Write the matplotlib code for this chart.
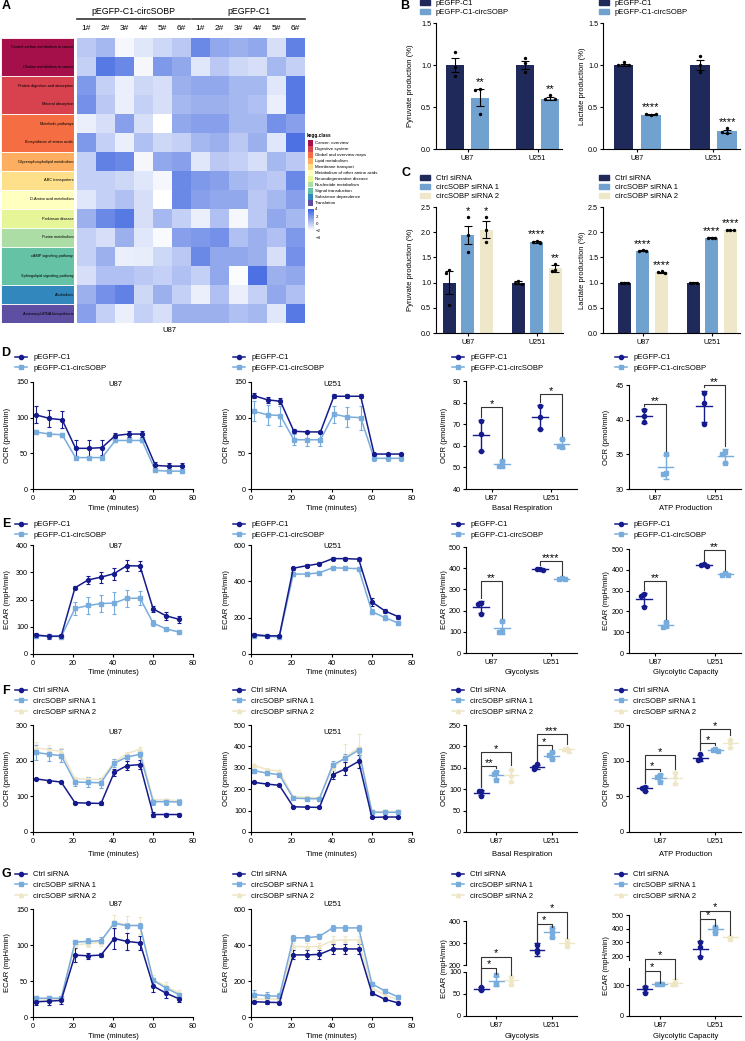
import numpy as np
import matplotlib
matplotlib.use('Agg')
import matplotlib.pyplot as plt
from matplotlib.colors import LinearSegmentedColormap, Normalize
from matplotlib.patches import Rectangle
from matplotlib.lines import Line2D

plt.rcParams['font.family'] = ['Liberation Sans', 'DejaVu Sans']
plt.rcParams['font.size'] = 5.5
plt.rcParams['axes.linewidth'] = 0.8
plt.rcParams['xtick.major.size'] = 2.5
plt.rcParams['ytick.major.size'] = 2.5
plt.rcParams['xtick.major.width'] = 0.8
plt.rcParams['ytick.major.width'] = 0.8
plt.rcParams['xtick.major.pad'] = 1.5
plt.rcParams['ytick.major.pad'] = 1.0
plt.rcParams['xtick.labelsize'] = 5.2
plt.rcParams['ytick.labelsize'] = 5.2

# ---------------- A: heatmap data ----------------
hm_groups = ['pEGFP-C1-circSOBP', 'pEGFP-C1']
hm_samples = ['1#', '2#', '3#', '4#', '5#', '6#'] * 2
pathways = ['Central carbon metabolism in cancer', 'Choline metabolism in cancer',
            'Protein digestion and absorption', 'Mineral absorption', 'Metabolic pathways',
            'Biosynthesis of amino acids', 'Glycerophospholipid metabolism', 'ABC transporters',
            'D-Amino acid metabolism', 'Parkinson disease', 'Purine metabolism',
            'cAMP signaling pathway', 'Sphingolipid signaling pathway', 'Alcoholism',
            'Aminoacyl-tRNA biosynthesis']
path_class = [0, 0, 1, 1, 2, 2, 3, 4, 5, 6, 7, 8, 8, 9, 10]
kegg_classes = ['Cancer: overview', 'Digestive system', 'Global and overview maps',
                'Lipid metabolism', 'Membrane transport', 'Metabolism of other amino acids',
                'Neurodegenerative disease', 'Nucleotide metabolism', 'Signal transduction',
                'Substance dependence', 'Translation']
kegg_colors = ['#a50f4a', '#d8424f', '#f46d43', '#fdae61', '#fee08b', '#ffffbf',
               '#e6f598', '#abdda4', '#66c2a5', '#3288bd', '#5e4fa2']
heat = [
    [0.1, 0.7, -1.7, -1.1, -0.5, 0.1, 2.5, 1.3, 1.0, 1.3, -0.8, 2.8],
    [-0.2, 3.1, 2.5, -1.7, 1.9, 1.3, -1.1, 0.1, -0.5, -0.8, 0.7, -0.2],
    [1.9, -0.2, -1.4, -0.5, -0.8, 1.0, 1.3, 1.3, 0.7, 0.7, -1.1, 3.1],
    [2.2, 0.1, -1.4, -0.2, -0.8, 0.7, 1.0, 1.0, 0.7, 0.4, -1.4, 3.1],
    [-1.4, -0.8, 1.6, -0.8, -2.0, 1.3, 1.6, 1.6, 0.7, 0.7, 2.2, 1.6],
    [1.9, -0.2, -1.4, 0.4, -0.5, -0.2, 0.7, 1.0, 0.1, 1.0, -1.1, 3.4],
    [-0.2, 2.8, 2.5, -1.7, 1.3, 1.6, -1.1, 0.1, -0.2, -0.8, 0.7, 0.1],
    [-0.2, -0.2, -0.5, -1.1, -1.7, 2.5, 1.9, 1.6, 0.7, 0.4, 0.1, 2.5],
    [-1.1, -0.2, 0.4, -0.8, -2.0, 2.5, 1.6, 1.3, 1.3, 0.1, 0.7, 1.6],
    [1.0, 2.5, 3.1, -0.8, 0.7, -0.2, -1.4, 0.4, -1.7, 0.1, 1.3, 0.7],
    [-0.2, -0.8, 1.0, -1.1, -1.8, 1.6, 1.9, 2.2, 0.4, 1.0, 0.4, 1.9],
    [-0.2, 1.0, -1.4, -1.3, -0.5, 0.1, 2.5, 1.3, 1.3, 1.0, -0.8, 2.2],
    [-0.8, 0.4, 0.4, 0.1, -0.2, 0.4, -0.2, 1.3, -1.9, 3.4, 1.0, 1.3],
    [1.0, 2.2, 2.8, -0.5, 1.0, -0.2, -1.4, 0.4, -1.4, -0.2, 1.3, 0.4],
    [1.6, -0.2, -1.4, -0.2, -0.8, 1.0, 1.0, 1.0, 0.4, 0.7, -1.1, 3.1],
]

# ---------------- B / C: bar data ----------------
cells = ['U87', 'U251']
oe_names = ['pEGFP-C1', 'pEGFP-C1-circSOBP']
kd_names = ['Ctrl siRNA', 'circSOBP siRNA 1', 'circSOBP siRNA 2']

pyr_b_mean = [[1.0, 1.0], [0.61, 0.60]]
pyr_b_err = [[0.08, 0.05], [0.10, 0.02]]
pyr_b_pts = [[[1.15, 0.98, 0.87], [1.08, 1.02, 0.92]], [[0.72, 0.70, 0.42], [0.64, 0.60, 0.60]]]
pyr_b_sig = [['', ''], ['**', '**']]
lac_b_mean = [[1.0, 1.0], [0.41, 0.21]]
lac_b_err = [[0.01, 0.06], [0.01, 0.02]]
lac_b_pts = [[[1.03, 1.0, 1.0], [1.11, 1.0, 0.92]], [[0.40, 0.42, 0.42], [0.25, 0.19, 0.20]]]
lac_b_sig = [['', ''], ['****', '****']]

pyr_c_mean = [[1.0, 1.0], [1.95, 1.80], [2.05, 1.28]]
pyr_c_err = [[0.23, 0.03], [0.18, 0.02], [0.17, 0.07]]
pyr_c_pts = [[[1.25, 1.20, 0.55], [1.03, 1.0, 0.98]], [[2.30, 1.95, 1.60], [1.83, 1.80, 1.79]],
             [[2.30, 2.05, 1.80], [1.36, 1.25, 1.24]]]
pyr_c_sig = [['', ''], ['*', '****'], ['*', '**']]
lac_c_mean = [[1.0, 1.0], [1.63, 1.89], [1.21, 2.04]]
lac_c_err = [[0.005, 0.005], [0.01, 0.005], [0.01, 0.005]]
lac_c_pts = [[[1.0, 1.0, 1.0], [1.0, 1.0, 1.0]], [[1.65, 1.63, 1.62], [1.89, 1.89, 1.89]],
             [[1.23, 1.21, 1.20], [2.04, 2.05, 2.04]]]
lac_c_sig = [['', ''], ['****', '****'], ['****', '****']]

# ---------------- D-G: Seahorse time courses ----------------
t_d = [1.3, 8.2, 14.6, 21.3, 27.9, 34.5, 41.2, 47.8, 54.5, 61.2, 67.9, 74.5]
t_efg = [1.3, 8.0, 14.1, 21.0, 27.6, 34.0, 40.6, 46.9, 53.5, 60.1, 66.6, 73.2]

d_u87 = [[104, 99, 97, 57, 57, 58, 75, 77, 77, 33, 32, 32],
         [80, 77, 76, 44, 44, 44, 68, 68, 68, 26, 25, 25]]
d_u87_err = [[12, 12, 12, 12, 12, 11, 4, 4, 4, 5, 5, 5],
             [3, 3, 3, 2, 2, 2, 2, 2, 2, 2, 2, 2]]
d_u251 = [[131, 125, 123, 81, 80, 80, 130, 130, 130, 49, 49, 49],
          [109, 104, 103, 69, 69, 69, 105, 101, 100, 43, 43, 43]]
d_u251_err = [[4, 4, 4, 3, 2, 2, 3, 3, 3, 2, 2, 2],
              [14, 14, 14, 8, 9, 9, 12, 14, 17, 4, 4, 4]]

e_u87 = [[70, 65, 66, 243, 272, 282, 295, 324, 323, 165, 140, 127],
         [67, 65, 64, 167, 178, 185, 187, 204, 205, 113, 92, 80]]
e_u87_err = [[8, 10, 8, 6, 14, 20, 22, 20, 20, 12, 14, 14],
             [5, 4, 4, 25, 30, 30, 40, 30, 25, 12, 4, 4]]
e_u251 = [[107, 100, 100, 472, 486, 497, 525, 525, 522, 286, 237, 205],
          [100, 97, 95, 440, 440, 447, 475, 472, 470, 233, 200, 170]]
e_u251_err = [[8, 5, 5, 8, 8, 8, 10, 8, 8, 20, 12, 12],
              [8, 5, 5, 10, 12, 8, 8, 8, 8, 15, 12, 12]]

f_u87 = [[149, 144, 140, 82, 81, 80, 167, 186, 189, 49, 49, 49],
         [223, 218, 214, 140, 139, 138, 193, 210, 218, 85, 85, 84],
         [236, 231, 226, 150, 148, 147, 195, 220, 232, 90, 90, 88]]
f_u87_err = [[3, 3, 3, 3, 3, 3, 10, 12, 12, 6, 3, 3],
             [20, 18, 18, 12, 14, 14, 12, 10, 8, 8, 8, 8],
             [15, 12, 10, 5, 5, 5, 5, 5, 5, 3, 3, 3]]
f_u251 = [[232, 224, 218, 118, 116, 115, 268, 295, 330, 68, 70, 70],
          [287, 275, 268, 158, 156, 155, 313, 345, 383, 92, 92, 92],
          [312, 292, 284, 165, 162, 160, 300, 350, 395, 96, 96, 96]]
f_u251_err = [[5, 4, 4, 4, 4, 4, 20, 30, 30, 4, 4, 4],
              [8, 8, 8, 5, 5, 5, 20, 20, 15, 5, 5, 5],
              [8, 8, 8, 5, 5, 5, 10, 60, 65, 5, 5, 5]]

g_u87 = [[21, 22, 23, 86, 85, 86, 109, 105, 103, 43, 33, 25],
         [26, 26, 26, 104, 105, 106, 130, 127, 127, 51, 40, 31],
         [23, 24, 25, 100, 102, 104, 132, 128, 127, 52, 43, 33]]
g_u87_err = [[5, 6, 5, 10, 4, 3, 15, 12, 10, 8, 6, 4],
             [3, 3, 3, 3, 5, 5, 3, 3, 3, 3, 3, 3],
             [4, 4, 4, 5, 5, 5, 10, 12, 12, 6, 6, 5]]
g_u251 = [[85, 82, 80, 345, 345, 348, 378, 378, 378, 133, 98, 78],
          [125, 118, 115, 440, 440, 448, 495, 495, 495, 185, 144, 111],
          [100, 100, 100, 393, 390, 392, 425, 428, 428, 160, 122, 95]]
g_u251_err = [[8, 8, 8, 25, 25, 25, 30, 30, 30, 12, 8, 8],
              [25, 20, 18, 15, 15, 15, 18, 18, 18, 12, 10, 10],
              [5, 5, 5, 20, 20, 20, 25, 20, 20, 10, 10, 10]]

# ---------------- D-G: summary dot plots (mean, SD, replicates) ----------------
d_bas_mean = [[64.8, 73.3], [51.5, 61.0]]
d_bas_sd = [[7.0, 5.4], [1.5, 2.0]]
d_bas_pts = [[[71.5, 65.5, 57.5], [78.6, 73.2, 67.8]], [[53.0, 50.5, 50.5], [63.0, 59.5, 60.0]]]
d_bas_sig = [(0, 1, 78, '*'), (1, 1, 84, '*')]
d_atp_mean = [[40.5, 41.9], [33.2, 34.7]]
d_atp_sd = [[1.0, 2.3], [1.7, 1.0]]
d_atp_pts = [[[41.4, 40.5, 39.7], [43.9, 42.4, 39.4]], [[35.0, 32.3, 32.2], [35.3, 35.0, 33.8]]]
d_atp_sig = [(0, 1, 42.3, '**'), (1, 1, 45.0, '**')]

e_gly_mean = [[215, 395], [120, 350]]
e_gly_sd = [[28, 3], [30, 4]]
e_gly_pts = [[[235, 230, 185], [398, 395, 392]], [[152, 105, 100], [353, 350, 347]]]
e_gly_sig = [(0, 1, 340, '**'), (1, 1, 434, '****')]
e_cap_mean = [[258, 422], [135, 378]]
e_cap_sd = [[32, 5], [12, 5]]
e_cap_pts = [[[285, 272, 220], [426, 422, 419]], [[150, 130, 125], [383, 377, 375]]]
e_cap_sig = [(0, 1, 346, '**'), (1, 1, 495, '**')]

f_bas_mean = [[92, 152], [133, 178], [133, 193]]
f_bas_sd = [[5, 5], [10, 8], [15, 4]]
f_bas_pts = [[[95, 95, 85], [158, 151, 147]], [[140, 136, 122], [186, 180, 170]],
             [[148, 133, 118], [197, 193, 190]]]
f_bas_sig = [(0, 1, 154, '**'), (0, 2, 187, '*'), (1, 1, 203, '*'), (1, 2, 229, '***')]
f_atp_mean = [[61, 104], [76, 115], [76, 125]]
f_atp_sd = [[3, 4], [5, 2], [8, 6]]
f_atp_pts = [[[63, 62, 57], [110, 102, 101]], [[80, 77, 70], [117, 115, 114]],
             [[84, 78, 68], [131, 126, 119]]]
f_atp_sig = [(0, 1, 88, '*'), (0, 2, 108, '*'), (1, 1, 125, '*'), (1, 2, 144, '*')]

g_gly_mean = [[62, 270], [80, 348], [82, 301]]
g_gly_sd = [[3, 28], [12, 20], [9, 15]]
g_gly_pts = [[[65, 62, 59], [293, 268, 258]], [[93, 76, 72], [366, 350, 328]],
             [[90, 82, 73], [315, 300, 288]]]
g_gly_sig = [(0, 1, 109, '*'), (0, 2, 134, '*'), (1, 1, 386, '*'), (1, 2, 441, '*')]
g_cap_mean = [[87, 255], [103, 395], [108, 338]]
g_cap_sd = [[11, 55], [1, 18], [10, 12]]
g_cap_pts = [[[95, 90, 75], [305, 265, 195]], [[104, 103, 102], [410, 400, 372]],
             [[115, 106, 102], [348, 338, 326]]]
g_cap_sig = [(0, 1, 145, '*'), (0, 2, 184, '*'), (1, 1, 470, '*'), (1, 2, 528, '*')]

# ---------------- styling ----------------
bar_cols = ['#1f2a5b', '#70a1cf', '#eee7ca']
line_cols = ['#151b8c', '#78acdd', '#efe6c6']
marks = ['o', 's', '^']
STAR_FS = 8

W, H = 745, 1041
fig = plt.figure(figsize=(W / 100, H / 100), dpi=100)


def px_axes(l, t, r, b):
    return fig.add_axes([l / W, 1 - b / H, (r - l) / W, (b - t) / H])


def ftext(x, y, s, **kw):
    kw.setdefault('ha', 'center')
    kw.setdefault('va', 'center')
    fig.text(x / W, 1 - y / H, s, **kw)


def style(ax):
    ax.spines['top'].set_visible(False)
    ax.spines['right'].set_visible(False)


def swarm(vals, tol, step):
    out = []
    for i, v in enumerate(vals):
        n = sum(abs(v - u) < tol for u in vals[:i])
        out.append([0, -step, step, -2 * step][n])
    return np.array(out)


def legend_at(handles, labels, x, y, hl=1.6, sp=0.45, hh=0.7):
    fig.legend(handles, labels, loc='upper left', bbox_to_anchor=(x / W, 1 - y / H),
               frameon=False, fontsize=5.5, handlelength=hl, handleheight=hh,
               handletextpad=0.8, labelspacing=sp, borderpad=0, borderaxespad=0)


def bar_panel(ax, means, errs, pts, sig, offs, width, ymax, xlim):
    x = np.arange(len(cells))
    for s in range(len(means)):
        xs = x + offs[s]
        ax.bar(xs, means[s], width, color=bar_cols[s], zorder=1)
        ax.errorbar(xs, means[s], yerr=errs[s], fmt='none', ecolor='black',
                    elinewidth=0.8, capsize=3, capthick=0.8, zorder=3)
        for c in range(len(cells)):
            p = pts[s][c]
            ax.scatter(xs[c] + swarm(p, ymax * 0.03, width * 0.27), p, s=6,
                       color='black', zorder=4, linewidths=0)
            if sig[s][c]:
                top = max(max(p), means[s][c] + errs[s][c])
                ax.text(xs[c], top + ymax * 0.01, sig[s][c], ha='center',
                        va='bottom', fontsize=STAR_FS)
    ax.set_xlim(*xlim)
    ax.set_ylim(0, ymax)
    ax.set_yticks(np.arange(0, ymax + 1e-9, 0.5))
    ax.yaxis.set_major_formatter('{x:.1f}')
    ax.set_xticks(x)
    ax.set_xticklabels(cells)
    style(ax)


def line_panel(ax, t, means, errs, ymax, ystep):
    for s in reversed(range(len(means))):
        ax.errorbar(t, means[s], yerr=errs[s], color=line_cols[s], marker=marks[s],
                    ms=2.8, lw=1.1, elinewidth=0.8, capsize=1.5, capthick=0.8)
    ax.set_xlim(0, 80)
    ax.set_ylim(0, ymax)
    ax.set_xticks([0, 20, 40, 60, 80])
    ax.set_yticks(np.arange(0, ymax + 1, ystep))
    style(ax)


def dot_panel(ax, means, sds, pts, offs, xlim, rng):
    for s in range(len(means)):
        for c in range(len(cells)):
            xc = c + offs[s]
            ax.plot([xc - 0.13, xc + 0.13], [means[s][c]] * 2, color=line_cols[s], lw=1.0)
            ax.errorbar(xc, means[s][c], yerr=sds[s][c], fmt='none', ecolor=line_cols[s],
                        elinewidth=1.0, capsize=2.5, capthick=1.0)
            p = pts[s][c]
            ax.plot(xc + swarm(p, rng * 0.03, 0.05), p, ls='none', marker=marks[s],
                    ms=3, color=line_cols[s])
    ax.set_xlim(*xlim)
    ax.set_xticks([0, 1])
    ax.set_xticklabels(cells)
    style(ax)


def brackets(ax, offs, means, sds, pts, sig, rng):
    for c, s, y, txt in sig:
        x1, x2 = c + offs[0], c + offs[s]
        t1 = max(max(pts[0][c]), means[0][c] + sds[0][c]) + rng * 0.03
        t2 = max(max(pts[s][c]), means[s][c] + sds[s][c]) + rng * 0.03
        ax.plot([x1, x1, x2, x2], [t1, y, y, t2], color='#333333', lw=0.8, clip_on=False)
        ax.text((x1 + x2) / 2, y - rng * 0.02, txt, ha='center', va='bottom',
                fontsize=STAR_FS, clip_on=False)


# ---------------- panel letters ----------------
for letter, x, y in [('A', 6, 6), ('B', 405, 6), ('C', 406, 173), ('D', 6, 353),
                     ('E', 6, 524), ('F', 6, 691), ('G', 6, 874)]:
    ftext(x, y, letter, fontsize=9, fontweight='bold')

# ---------------- A ----------------
hm_cmap = LinearSegmentedColormap.from_list('hm', ['#ffffff', '#3a62df'])
hm_norm = Normalize(-2, 4)
ax = px_axes(77, 38, 305, 323)
ax.imshow(np.array(heat), cmap=hm_cmap, norm=hm_norm, aspect='auto', interpolation='nearest')
ax.set_axis_off()

axl = px_axes(1, 38, 74, 323)
axl.set_xlim(0, 1)
axl.set_ylim(len(pathways), 0)
axl.set_axis_off()
start = 0
for i in range(1, len(pathways) + 1):
    if i == len(pathways) or path_class[i] != path_class[start]:
        axl.add_patch(Rectangle((0, start), 1, i - start, facecolor=kegg_colors[path_class[start]],
                                edgecolor='white', lw=0.6))
        start = i
for i, name in enumerate(pathways):
    axl.text(0.99, i + 0.5, name, ha='right', va='center', fontsize=2.8)

for j, lab in enumerate(hm_samples):
    ftext(77 + (j + 0.5) * 19, 29, lab, fontsize=6)
for (x0, x1), g in zip([(77, 190), (192, 305)], hm_groups):
    fig.add_artist(Line2D([x0 / W, x1 / W], [1 - 19 / H] * 2, color='#333333', lw=1.2))
    ftext((x0 + x1) / 2, 11, g, fontsize=6.3)
ftext(169, 331, 'U87', fontsize=5.5)

ftext(307, 136, 'kegg.class', ha='left', fontsize=3.4, fontweight='bold')
for i, (name, col) in enumerate(zip(kegg_classes, kegg_colors)):
    y = 142.7 + 6 * i
    fig.add_artist(Rectangle((308 / W, 1 - (y + 2.8) / H), 5 / W, 5.6 / H,
                             transform=fig.transFigure, facecolor=col, edgecolor='none'))
    ftext(315, y, name, ha='left', fontsize=3.2)
axc = px_axes(308, 209, 314, 238)
axc.imshow(np.linspace(4, -4, 200).reshape(-1, 1), cmap=hm_cmap, norm=hm_norm,
           aspect='auto', extent=[0, 1, -4, 4])
axc.set_xticks([])
axc.yaxis.tick_right()
axc.set_yticks([4, 2, 0, -2, -4])
axc.set_yticklabels(['4', '2', '0', '\u22122', '\u22124'], fontsize=3.2)
axc.tick_params(axis='y', length=0, pad=1)
for sp in axc.spines.values():
    sp.set_visible(False)

# ---------------- B ----------------
ax = px_axes(436, 23, 562, 149)
bar_panel(ax, pyr_b_mean, pyr_b_err, pyr_b_pts, pyr_b_sig, [-0.18, 0.18], 0.26, 1.5, (-0.45, 1.35))
ax = px_axes(603, 23, 740, 149)
bar_panel(ax, lac_b_mean, lac_b_err, lac_b_pts, lac_b_sig, [-0.18, 0.18], 0.26, 1.5, (-0.45, 1.35))
ftext(411, 86, 'Pyruvate production (%)', rotation=90)
ftext(583, 86, 'Lactate production (%)', rotation=90)
bh = [Rectangle((0, 0), 1, 1, color=c) for c in bar_cols]
legend_at(bh[:2], oe_names, 420, 0, hl=1.25, sp=0.2)
legend_at(bh[:2], oe_names, 599, 0, hl=1.25, sp=0.2)

# ---------------- C ----------------
ax = px_axes(436, 207, 563, 333)
bar_panel(ax, pyr_c_mean, pyr_c_err, pyr_c_pts, pyr_c_sig, [-0.27, 0, 0.27], 0.19, 2.5, (-0.46, 1.38))
ax = px_axes(603, 207, 740, 333)
bar_panel(ax, lac_c_mean, lac_c_err, lac_c_pts, lac_c_sig, [-0.27, 0, 0.27], 0.19, 2.5, (-0.58, 1.41))
ftext(411, 270, 'Pyruvate production (%)', rotation=90)
ftext(583, 270, 'Lactate production (%)', rotation=90)
legend_at(bh, kd_names, 420, 175, hl=1.25, sp=0.2)
legend_at(bh, kd_names, 599, 175, hl=1.25, sp=0.2)

# ---------------- D-G line charts ----------------
line_rows = [
    ('OCR (pmol/min)', t_d, (382, 489), (d_u87, d_u87_err, 150, 50), (d_u251, d_u251_err, 150, 50), 384, 508),
    ('ECAR (mpH/min)', t_efg, (545, 654), (e_u87, e_u87_err, 400, 100), (e_u251, e_u251_err, 600, 200), 547, 672),
    ('OCR (pmol/min)', t_efg, (725, 832), (f_u87, f_u87_err, 300, 100), (f_u251, f_u251_err, 500, 100), 733, 854),
    ('ECAR (mpH/min)', t_efg, (909, 1017), (g_u87, g_u87_err, 150, 50), (g_u251, g_u251_err, 600, 200), 904, 1036),
]
for ylab, t, (top, bot), left, right, ty, xy in line_rows:
    for (l, r, lx, cx), (m, e, ymax, ystep), cell in zip([(33, 193, 8, 113), (251, 412, 226, 331)],
                                                         [left, right], cells):
        ax = px_axes(l, top, r, bot)
        line_panel(ax, t, m, e, ymax, ystep)
        ftext(lx, (top + bot) / 2, ylab, rotation=90)
        ftext(cx, xy, 'Time (minutes)')
        ftext(cx + 2, ty, cell)

# legends for D-G
lh = [Line2D([], [], color=c, marker=mk, ms=3, lw=1.1) for c, mk in zip(line_cols, marks)]
for y0, n, names in [(354, 2, oe_names), (521, 2, oe_names), (687, 3, kd_names), (871, 3, kd_names)]:
    for x0 in [15, 233, 452, 615]:
        legend_at(lh[:n], names, x0, y0)

# ---------------- D-F dot plots ----------------
two = [-0.18, 0.18]
three = [-0.27, 0, 0.27]
dot_rows = [
    ('OCR (pmol/min)', two, (-0.43, 1.44),
     (381, 489, d_bas_mean, d_bas_sd, d_bas_pts, d_bas_sig, (40, 90, 10), 'Basal Respiration'),
     (385, 489, d_atp_mean, d_atp_sd, d_atp_pts, d_atp_sig, (30, 45, 5), 'ATP Production'), 508),
    ('ECAR (mpH/min)', two, (-0.43, 1.44),
     (547, 653, e_gly_mean, e_gly_sd, e_gly_pts, e_gly_sig, (0, 500, 100), 'Glycolysis'),
     (549, 653, e_cap_mean, e_cap_sd, e_cap_pts, e_cap_sig, (0, 500, 100), 'Glycolytic Capacity'), 672),
    ('OCR (pmol/min)', three, (-0.55, 1.46),
     (725, 832, f_bas_mean, f_bas_sd, f_bas_pts, f_bas_sig, (0, 250, 50), 'Basal Respiration'),
     (725, 832, f_atp_mean, f_atp_sd, f_atp_pts, f_atp_sig, (0, 150, 50), 'ATP Production'), 854),
]
for ylab, offs, xlim, p3, p4, xy in dot_rows:
    for (l, r, lx), (top, bot, m, sd, pts, sig, (y0, y1, ys), xl) in zip(
            [(466, 577, 444), (629, 741, 607)], [p3, p4]):
        ax = px_axes(l, top, r, bot)
        dot_panel(ax, m, sd, pts, offs, xlim, y1 - y0)
        ax.set_ylim(y0, y1)
        ax.set_yticks(np.arange(y0, y1 + 1e-9, ys))
        brackets(ax, offs, m, sd, pts, sig, y1 - y0)
        ftext(lx, (top + bot) / 2, ylab, rotation=90)
        ftext((l + r) / 2 + 1, xy, xl)

# ---------------- G dot plots (broken y axis) ----------------
g_rows = [
    (466, 577, 444, (921, 965, 200, 400, [200, 300, 400]), (972, 1016, 0, 100, [0, 50, 100]),
     g_gly_mean, g_gly_sd, g_gly_pts, g_gly_sig, 'Glycolysis'),
    (629, 741, 607, (915, 960, 171, 500, [200, 300, 400, 500]), (968, 1016, 0, 155, [0, 100]),
     g_cap_mean, g_cap_sd, g_cap_pts, g_cap_sig, 'Glycolytic Capacity'),
]
for l, r, lx, up, lo, m, sd, pts, sig, xl in g_rows:
    ax_up = px_axes(l, up[0], r, up[1])
    ax_lo = px_axes(l, lo[0], r, lo[1])
    for a, (tp, bt, y0, y1, ticks) in [(ax_up, up), (ax_lo, lo)]:
        dot_panel(a, m, sd, pts, three, (-0.55, 1.46), y1 - y0)
        a.set_ylim(y0, y1)
        a.set_yticks(ticks)
    ax_up.spines['bottom'].set_visible(False)
    ax_up.tick_params(axis='x', bottom=False, labelbottom=False)
    brackets(ax_lo, three, m, sd, pts, [b for b in sig if b[0] == 0], 100)
    brackets(ax_up, three, m, sd, pts, [b for b in sig if b[0] == 1], 200)
    ftext(lx, (up[0] + lo[1]) / 2, 'ECAR (mpH/min)', rotation=90)
    ftext((l + r) / 2 + 1, 1036, xl)

fig.savefig('out.png', dpi=100)
